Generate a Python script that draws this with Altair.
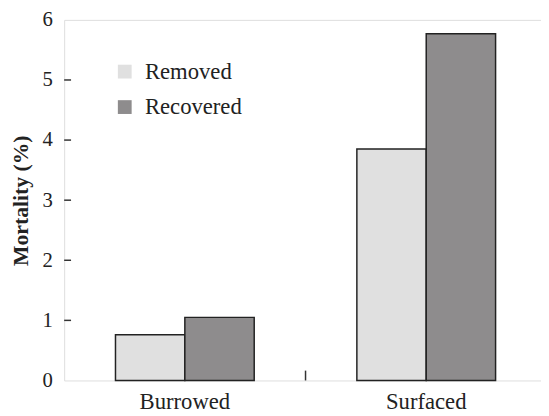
import altair as alt
import pandas as pd

categories = ["Burrowed", "Surfaced"]
groups = ["Removed", "Recovered"]
removed = [0.76, 3.85]
recovered = [1.05, 5.77]
y_ticks = [1, 2, 3, 4, 5]
colors = ["#e0e0e0", "#8e8c8d"]

rows = []
for i, c in enumerate(categories):
    rows.append({"cat": c, "grp": groups[0], "val": removed[i]})
    rows.append({"cat": c, "grp": groups[1], "val": recovered[i]})
df = pd.DataFrame(rows)

FONT = "Liberation Serif"
W, H = 484, 366

xscale = alt.Scale(domain=categories, range=[0, 490], paddingInner=0, paddingOuter=0)
yscale = alt.Scale(domain=[0, 6], nice=False)

bars = alt.Chart(df).mark_bar(stroke="#222222", strokeWidth=1.5).encode(
    x=alt.X("cat:N", scale=xscale, sort=categories,
            axis=alt.Axis(title=None, labelAngle=0, grid=False, domain=False, ticks=False,
                          labelFont=FONT, labelFontSize=23, labelColor="#222222",
                          labelPadding=10)),
    xOffset=alt.XOffset("grp:N", sort=groups,
                        scale=alt.Scale(domain=groups, paddingInner=0, paddingOuter=0.74)),
    y=alt.Y("val:Q", scale=yscale,
            axis=alt.Axis(title="Mortality (%)", values=[0, 1, 2, 3, 4, 5, 6], format="d",
                          grid=False, domain=False, ticks=False,
                          labelFont=FONT, labelFontSize=21, labelColor="#222222",
                          labelPadding=12, titleFont=FONT, titleFontSize=22,
                          titleFontWeight="bold", titleColor="#222222", titlePadding=10)),
    color=alt.Color("grp:N", sort=groups,
                    scale=alt.Scale(domain=groups, range=colors),
                    legend=alt.Legend(title=None, orient="none", legendX=50, legendY=41,
                                      symbolType="square", symbolSize=196,
                                      symbolStrokeWidth=0, labelFont=FONT,
                                      labelFontSize=23, labelColor="#222222",
                                      labelOffset=9, rowPadding=12)),
)

ytick_df = pd.DataFrame({"v": y_ticks})
yticks = alt.Chart(ytick_df).mark_rule(color="#333333", strokeWidth=1.5).encode(
    y=alt.Y("v:Q", scale=yscale),
    x=alt.value(0),
    x2=alt.value(7),
)

xtick_df = pd.DataFrame({"cat": ["Surfaced"]})
xticks = alt.Chart(xtick_df).mark_rule(color="#333333", strokeWidth=1.5).encode(
    x=alt.X("cat:N", scale=xscale, bandPosition=0),
    y=alt.value(H),
    y2=alt.value(H - 10),
)

chart = alt.layer(bars, yticks, xticks).properties(
    width=W, height=H,
    autosize=alt.AutoSizeParams(type="none"),
    padding={"left": 57, "top": 9, "right": 0, "bottom": 33},
).configure_view(stroke="#333333", strokeWidth=1.5).configure(background="white")

chart.save("out.html", embed_options={"renderer": "svg", "actions": False})
